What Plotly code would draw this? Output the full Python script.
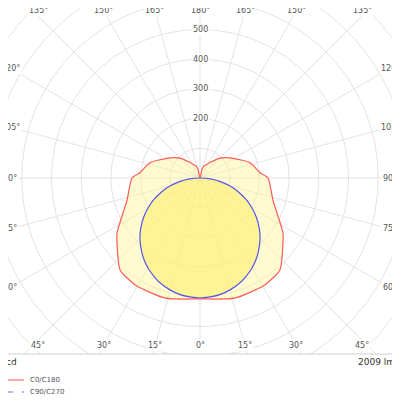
import numpy as np
import plotly.graph_objects as go

# C0/C180 intensity (cd) vs gamma angle (deg)
c0_angles = [0, 16, 31, 41, 51, 56.5, 73, 90, 95, 107, 124, 135, 165, 180]
c0_values = [407, 421, 421, 410, 359, 335, 257, 229, 203, 176, 121, 95, 38, 0]
# C90/C270
c90_angles = [0, 5, 10, 15, 20, 25, 30, 35, 40, 45, 50, 55, 60, 65, 70, 75, 80, 85, 90]
c90_values = [404, 402, 398, 390, 380, 366, 350, 331, 309, 286, 260, 232, 202, 171, 138, 105, 70, 35, 0]
radial_ticks = [200, 300, 400, 500]
angle_ticks = [0, 15, 30, 45, 60, 75, 90, 105, 120, 135, 150, 165, 180]
lumen_text = "2009 lm"

S = 0.297  # px per cd
W = H = 392
OFF = 8  # page body margin
PB = 354  # page y of plot bottom
plot_h = PB - OFF
fig = go.Figure()

def xy(angles, values, side):
    a = np.radians(np.array(angles, float))
    v = np.array(values, float)
    return side * v * np.sin(a), -v * np.cos(a)

th = np.linspace(0, 2 * np.pi, 361)
for r in range(100, 1000, 100):
    fig.add_trace(go.Scatter(x=r * np.cos(th), y=r * np.sin(th), mode="lines",
                             line=dict(color="#e3e3e3", width=1), hoverinfo="skip", showlegend=False))
for a in range(0, 360, 15):
    t = np.radians(a)
    fig.add_trace(go.Scatter(x=[0, 1200 * np.sin(t)], y=[0, -1200 * np.cos(t)], mode="lines",
                             line=dict(color="#e3e3e3", width=1), hoverinfo="skip", showlegend=False))

def full(angles, values):
    xr, yr = xy(angles, values, 1)
    xl, yl = xy(angles, values, -1)
    return np.concatenate([xr[::-1], xl[1:]]), np.concatenate([yr[::-1], yl[1:]])

x0, y0 = full(c0_angles, c0_values)
fig.add_trace(go.Scatter(x=x0, y=y0, mode="lines", fill="toself", line_shape="spline",
                         fillcolor="rgba(255,245,150,0.45)",
                         line=dict(color="#ff5a5a", width=1.2, smoothing=0.6), showlegend=False))
x9, y9 = full(c90_angles, c90_values)
fig.add_trace(go.Scatter(x=x9, y=y9, mode="lines", fill="toself", line_shape="spline",
                         fillcolor="rgba(255,240,110,0.6)",
                         line=dict(color="#5555ee", width=1.2), showlegend=False))

def px2x(px): return (px - 200) / S
def py2y(py): return (178 - py) / S

ann = []
for r in radial_ticks:
    ann.append(dict(x=0, y=r, text=str(r), showarrow=False, font=dict(size=8, color="#555"),
                    bgcolor="white", xref="x", yref="y"))
bx, byt, byb = 190 / S, 168 / S, 167 / S
for a in angle_ticks:
    t = np.radians(a)
    dx, dy = np.sin(t), -np.cos(t)
    ks = []
    if abs(dx) > 1e-9: ks.append(bx / abs(dx))
    if dy > 1e-9: ks.append(byt / dy)
    if dy < -1e-9: ks.append(byb / -dy)
    k = min(ks)
    px, py = k * dx, k * dy
    px = max(min(px, 162 / S), -162 / S) if abs(dy) > 0.6 else px
    for side in ([1, -1] if a not in (0, 180) else [1]):
        ann.append(dict(x=side * px, y=py, text=f"{a}°", showarrow=False,
                        font=dict(size=8, color="#555"), bgcolor="white", xref="x", yref="y"))

def pxp(x): return (x - OFF) / W
def pyp(y): return (PB - y) / plot_h

ann += [
    dict(x=pxp(4), y=pyp(362), xref="paper", yref="paper", text="cd", showarrow=False,
         xanchor="left", yanchor="middle", font=dict(size=9, color="#333")),
    dict(x=pxp(397), y=pyp(362), xref="paper", yref="paper", text=lumen_text, showarrow=False,
         xanchor="right", yanchor="middle", font=dict(size=9, color="#333")),
    dict(x=pxp(28), y=pyp(380), xref="paper", yref="paper", text="C0/C180", showarrow=False,
         xanchor="left", yanchor="middle", font=dict(size=7, color="#555")),
    dict(x=pxp(28), y=pyp(392), xref="paper", yref="paper", text="C90/C270", showarrow=False,
         xanchor="left", yanchor="middle", font=dict(size=7, color="#555")),
]
shapes = [
    dict(type="line", xref="paper", yref="paper", x0=pxp(4), x1=pxp(24),
         y0=pyp(380), y1=pyp(380), line=dict(color="#ff7070", width=1.2)),
    dict(type="line", xref="paper", yref="paper", x0=pxp(4), x1=pxp(24),
         y0=pyp(392), y1=pyp(392), line=dict(color="#7070ee", width=1.2, dash="dash")),
    dict(type="line", xref="paper", yref="paper", x0=0, x1=1, y0=0, y1=0,
         line=dict(color="#d0d0d0", width=1)),
]
fig.update_layout(
    width=W, height=H, margin=dict(l=0, r=0, t=0, b=H - plot_h),
    paper_bgcolor="white", plot_bgcolor="white",
    xaxis=dict(range=[px2x(OFF), px2x(OFF + W)], visible=False, fixedrange=True),
    yaxis=dict(range=[py2y(PB), py2y(OFF)], visible=False, fixedrange=True),
    annotations=ann, shapes=shapes, font=dict(family="DejaVu Sans"),
)
fig.write_html("out.html")
